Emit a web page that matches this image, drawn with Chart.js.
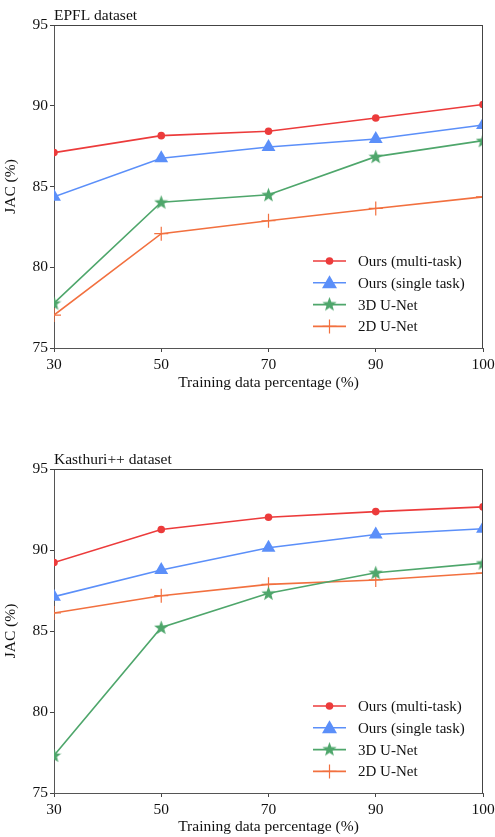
<!DOCTYPE html>
<html>
<head>
<meta charset="utf-8">
<script src="https://cdn.jsdelivr.net/npm/chart.js@4/dist/chart.umd.min.js"></script>
<style>
  html, body { margin: 0; padding: 0; background: #fff; }
  body { width: 495px; height: 837px; position: relative; overflow: hidden; }
  .box { position: absolute; left: 0; width: 495px; height: 393px; }
  #b1 { top: 0; }
  #b2 { top: 444px; }
</style>
</head>
<body>
<div class="box" id="b1"><canvas id="c1"></canvas></div>
<div class="box" id="b2"><canvas id="c2"></canvas></div>
<script>
// ---- Data ----
const categories = ['30', '50', '70', '90', '100'];
const seriesNames = ['Ours (multi-task)', 'Ours (single task)', '3D U-Net', '2D U-Net'];
const yTicks = [75, 80, 85, 90, 95];

const epflMulti  = [87.1, 88.15, 88.42, 89.24, 90.08];
const epflSingle = [84.36, 86.75, 87.45, 87.94, 88.81];
const epfl3D     = [77.78, 84.03, 84.49, 86.85, 87.84];
const epfl2D     = [77.04, 82.08, 82.88, 83.64, 84.36];

const kasMulti  = [89.23, 91.27, 92.02, 92.37, 92.66];
const kasSingle = [87.12, 88.76, 90.14, 90.96, 91.31];
const kas3D     = [77.32, 85.22, 87.33, 88.6, 89.19];
const kas2D     = [86.11, 87.18, 87.88, 88.15, 88.58];

const titles = ['EPFL dataset', 'Kasthuri++ dataset'];

// ---- Styles ----
const colors = ['#ec3b3b', '#5b8ff9', '#4ea66b', '#f2703f'];
const FONT = '"Liberation Serif", "Times New Roman", serif';
const FS = 15.5;

function makeStar(size, color) {
  const c = document.createElement('canvas');
  c.width = size; c.height = size;
  const ctx = c.getContext('2d');
  const R = size / 2, r = R * 0.42, cx = size / 2, cy = size / 2 + 0.6;
  ctx.beginPath();
  for (let i = 0; i < 10; i++) {
    const rad = i % 2 === 0 ? R : r;
    const a = -Math.PI / 2 + i * Math.PI / 5;
    const x = cx + rad * Math.cos(a), y = cy + rad * Math.sin(a);
    if (i === 0) ctx.moveTo(x, y); else ctx.lineTo(x, y);
  }
  ctx.closePath();
  ctx.fillStyle = color;
  ctx.fill();
  return c;
}
const starImg = makeStar(15, colors[2]);
const starImgLegend = makeStar(15, colors[2]);

function datasets(arrs) {
  return [
    { label: seriesNames[0], data: arrs[0], borderColor: colors[0], backgroundColor: colors[0],
      pointStyle: 'circle', pointRadius: 3.8, borderWidth: 1.6, pointBorderWidth: 0 },
    { label: seriesNames[1], data: arrs[1], borderColor: colors[1], backgroundColor: colors[1],
      pointStyle: 'triangle', pointRadius: 8, borderWidth: 1.6, pointBorderWidth: 0 },
    { label: seriesNames[2], data: arrs[2], borderColor: colors[2], backgroundColor: colors[2],
      pointStyle: starImg, pointRadius: 7, borderWidth: 1.6, pointBorderWidth: 0 },
    { label: seriesNames[3], data: arrs[3], borderColor: colors[3], backgroundColor: colors[3],
      pointStyle: 'cross', pointRadius: 7, borderWidth: 1.6, pointBorderWidth: 1.2 }
  ].map(d => Object.assign(d, { tension: 0, fill: false, clip: 0, pointHoverRadius: d.pointRadius }));
}

const framePlugin = {
  id: 'frame',
  afterDatasetsDraw(chart, args, opts) {
    const a = chart.chartArea, ctx = chart.ctx;
    ctx.save();
    ctx.strokeStyle = '#444';
    ctx.lineWidth = 1;
    ctx.beginPath();
    ctx.moveTo(a.left, a.top + 0.5); ctx.lineTo(a.right, a.top + 0.5);
    ctx.moveTo(a.right - 0.5, a.top); ctx.lineTo(a.right - 0.5, a.bottom);
    ctx.stroke();
    // title
    ctx.fillStyle = '#111';
    ctx.font = FS + 'px ' + FONT;
    ctx.textAlign = 'left';
    ctx.textBaseline = 'alphabetic';
    ctx.fillText(opts.text, a.left, a.top - 5);
    // legend
    const x0 = a.left + 259, x1 = a.left + 292, tx = a.left + 304;
    chart.data.datasets.forEach((ds, i) => {
      const y = a.bottom - 87 + i * 21.8;
      ctx.strokeStyle = ds.borderColor;
      ctx.lineWidth = 1.6;
      ctx.beginPath(); ctx.moveTo(x0, y); ctx.lineTo(x1, y); ctx.stroke();
      const mx = (x0 + x1) / 2;
      ctx.fillStyle = ds.borderColor;
      if (i === 0) {
        ctx.beginPath(); ctx.arc(mx, y, 3.8, 0, Math.PI * 2); ctx.fill();
      } else if (i === 1) {
        ctx.beginPath();
        ctx.moveTo(mx, y - 7.5); ctx.lineTo(mx + 7.5, y + 5.5); ctx.lineTo(mx - 7.5, y + 5.5);
        ctx.closePath(); ctx.fill();
      } else if (i === 2) {
        ctx.drawImage(starImgLegend, mx - 7.5, y - 7.5 - 0.6);
      } else {
        ctx.lineWidth = 1.2;
        ctx.beginPath();
        ctx.moveTo(mx, y - 7); ctx.lineTo(mx, y + 7);
        ctx.moveTo(mx - 7, y); ctx.lineTo(mx + 7, y);
        ctx.stroke();
      }
      ctx.fillStyle = '#111';
      ctx.font = '15px ' + FONT;
      ctx.textBaseline = 'middle';
      ctx.fillText(ds.label, tx, y + 1);
    });
    ctx.restore();
  }
};

function makeChart(id, arrs, title, xAxisHeight) {
  return new Chart(document.getElementById(id), {
    type: 'line',
    data: { labels: categories, datasets: datasets(arrs) },
    options: {
      responsive: true,
      maintainAspectRatio: false,
      animation: false,
      events: [],
      layout: { padding: { top: 25, right: 12, left: 0, bottom: 0 } },
      plugins: { legend: { display: false }, tooltip: { enabled: false }, frame: { text: title } },
      scales: {
        x: {
          type: 'category',
          offset: false,
          grid: { display: true, drawOnChartArea: false, drawTicks: true, tickLength: 4, color: '#444' },
          border: { display: true, color: '#555', width: 1 },
          ticks: { color: '#111', font: { family: FONT, size: FS }, padding: 4, maxRotation: 0, autoSkip: false },
          title: { display: true, text: 'Training data percentage (%)', color: '#111',
                   font: { family: FONT, size: FS }, padding: { top: 0, bottom: 1 } },
          afterFit(s) { s.height = xAxisHeight; s.paddingLeft = 0; s.paddingRight = 0; }
        },
        y: {
          min: 75, max: 95,
          afterBuildTicks(s) { s.ticks = yTicks.map(v => ({ value: v })); },
          grid: { display: true, drawOnChartArea: false, drawTicks: true, tickLength: 4, color: '#444' },
          border: { display: true, color: '#555', width: 1 },
          ticks: { color: '#111', font: { family: FONT, size: FS }, padding: 2 },
          title: { display: true, text: 'JAC (%)', color: '#111',
                   font: { family: FONT, size: FS }, padding: { top: 2, bottom: 0 } },
          afterFit(s) { s.width = 54; s.paddingTop = 0; s.paddingBottom = 0; }
        }
      }
    },
    plugins: [framePlugin]
  });
}

makeChart('c1', [epflMulti, epflSingle, epfl3D, epfl2D], titles[0], 45);
makeChart('c2', [kasMulti, kasSingle, kas3D, kas2D], titles[1], 44);
</script>
</body>
</html>
